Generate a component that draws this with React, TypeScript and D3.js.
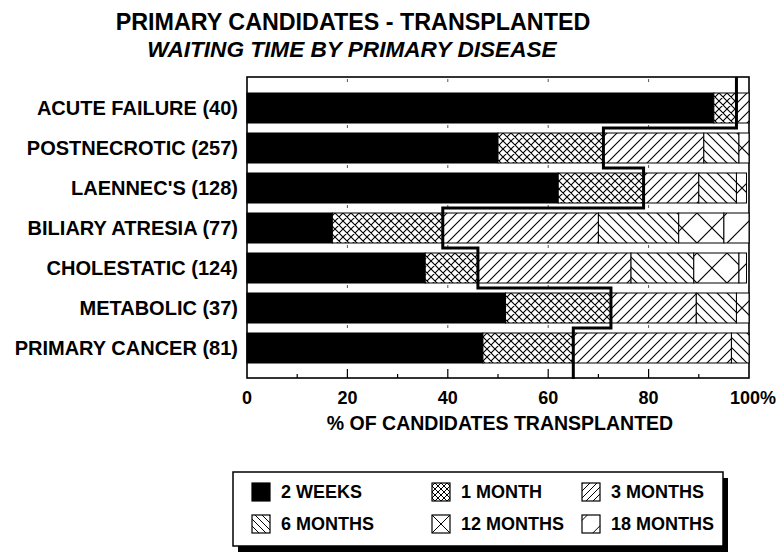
import * as React from 'react';
import * as d3 from 'd3';

// rows, top to bottom
const categories = [
  'ACUTE FAILURE (40)',
  'POSTNECROTIC (257)',
  "LAENNEC'S (128)",
  'BILIARY ATRESIA (77)',
  'CHOLESTATIC (124)',
  'METABOLIC (37)',
  'PRIMARY CANCER (81)',
];

const periods = ['2 WEEKS', '1 MONTH', '3 MONTHS', '6 MONTHS', '12 MONTHS', '18 MONTHS'];

// % of candidates transplanted within each waiting period (share per period)
const twoWeeks = [93, 50, 62, 17, 35.5, 51.5, 47];
const oneMonth = [4.5, 21, 17, 22, 10.5, 21, 18];
const threeMonths = [2.5, 20, 11, 31, 30.5, 17, 31.5];
const sixMonths = [0, 7, 7.5, 16, 12.5, 8, 3.5];
const twelveMonths = [0, 2, 2, 9, 9, 2.5, 0];
const eighteenMonths = [0, 0, 0, 5, 1.5, 0, 0];

const xTicks = [0, 20, 40, 60, 80, 100];
const xMinorTicks = [10, 30, 50, 70, 90];

const FONT = '"Liberation Sans", Arial, Helvetica, sans-serif';

class App extends React.Component {
  private element;

  componentDidMount() {
    this.draw();
  }

  draw() {
    const svg = d3.select(this.element);
    svg.selectAll('*').remove();

    const box = { left: 247, right: 749, top: 77, bottom: 378 };

    const x = d3.scaleLinear().domain([0, 100]).range([box.left, box.right]);
    const y = d3.scaleBand<string>()
      .domain(categories)
      .range([88, 368])
      .paddingInner(0.25)
      .paddingOuter(0.125);
    const bw = y.bandwidth();

    const series = [twoWeeks, oneMonth, threeMonths, sixMonths, twelveMonths, eighteenMonths];
    const table = categories.map((c, i) => {
      const row: any = { cat: c };
      periods.forEach((p, k) => { row[p] = series[k][i]; });
      return row;
    });
    const stacked = d3.stack().keys(periods)(table);

    // patterns
    const defs = svg.append('defs');
    const small = (id, size, d, sw) => {
      const p = defs.append('pattern')
        .attr('id', id)
        .attr('patternUnits', 'userSpaceOnUse')
        .attr('x', box.left).attr('y', y(categories[0]))
        .attr('width', size).attr('height', size);
      p.append('rect').attr('width', size).attr('height', size).attr('fill', '#fff');
      p.append('path').attr('d', d).attr('stroke', '#000').attr('stroke-width', sw).attr('fill', 'none');
    };
    small('p1', 8, 'M0,0L8,8M8,0L0,8M-1,1L1,-1M7,9L9,7M-1,7L1,9M7,-1L9,1', 1.1);
    small('p3', 10, 'M0,10L10,0M-1,1L1,-1M9,11L11,9', 1.1);
    small('p6', 10, 'M0,0L10,10M-1,9L1,11M9,-1L11,1', 1.1);
    const big = (id, d) => {
      const p = defs.append('pattern')
        .attr('id', id)
        .attr('patternUnits', 'userSpaceOnUse')
        .attr('x', box.left).attr('y', y(categories[0]))
        .attr('width', bw).attr('height', y.step());
      p.append('rect').attr('width', bw).attr('height', y.step()).attr('fill', '#fff');
      p.append('path').attr('d', d).attr('stroke', '#000').attr('stroke-width', 1.1).attr('fill', 'none');
    };
    big('p12', `M0,0L${bw},${bw}M${bw},0L0,${bw}`);
    big('p18', `M0,${bw}L${bw},0`);

    const fills = ['#000', 'url(#p1)', 'url(#p3)', 'url(#p6)', 'url(#p12)', 'url(#p18)'];

    // plot frame
    svg.append('rect')
      .attr('x', box.left).attr('y', box.top)
      .attr('width', box.right - box.left).attr('height', box.bottom - box.top)
      .attr('fill', '#fff').attr('stroke', '#000').attr('stroke-width', 1.6);

    // little grid marks in the gaps
    const gapTops = [box.top].concat(categories.map((c) => y(c) + bw));
    const g0 = svg.append('g');
    gapTops.forEach((gy, i) => {
      if (i === categories.length) return;
      [20, 40, 60, 80].forEach((t) => {
        g0.append('line')
          .attr('x1', x(t)).attr('x2', x(t))
          .attr('y1', gy + 2).attr('y2', gy + 5)
          .attr('stroke', '#555').attr('stroke-width', 1);
      });
    });

    // bars
    stacked.forEach((s, k) => {
      svg.append('g')
        .selectAll('rect')
        .data(s.filter((d) => d[1] - d[0] > 0))
        .enter()
        .append('rect')
        .attr('x', (d) => x(d[0]))
        .attr('y', (d) => y(d.data.cat))
        .attr('width', (d) => x(d[1]) - x(d[0]))
        .attr('height', bw)
        .attr('fill', fills[k])
        .attr('stroke', '#000')
        .attr('stroke-width', 1);
    });

    // step line along the one-month boundary
    const cum = categories.map((c, i) => twoWeeks[i] + oneMonth[i]);
    const gapMid = (i) => y(categories[i]) + bw + (y.step() - bw) / 2;
    let d = `M${x(cum[0])},${box.top}`;
    cum.forEach((v, i) => {
      if (i > 0) d += `H${x(v)}`;
      d += `V${i < cum.length - 1 ? gapMid(i) : box.bottom + 1}`;
    });
    svg.append('path').attr('d', d)
      .attr('fill', 'none').attr('stroke', '#000').attr('stroke-width', 3);

    // ticks inside bottom of frame
    xTicks.slice(1, -1).forEach((t) => {
      svg.append('line').attr('x1', x(t)).attr('x2', x(t))
        .attr('y1', box.bottom - 9).attr('y2', box.bottom)
        .attr('stroke', '#000').attr('stroke-width', 1.2);
    });
    xMinorTicks.forEach((t) => {
      svg.append('line').attr('x1', x(t)).attr('x2', x(t))
        .attr('y1', box.bottom - 4).attr('y2', box.bottom)
        .attr('stroke', '#000').attr('stroke-width', 1.2);
    });

    // tick labels
    svg.append('g')
      .selectAll('text')
      .data(xTicks)
      .enter()
      .append('text')
      .attr('x', (t) => x(t) + (t === 100 ? 4 : 0))
      .attr('y', 404)
      .attr('text-anchor', 'middle')
      .attr('font-family', FONT).attr('font-weight', 'bold').attr('font-size', 18)
      .text((t) => (t === 100 ? '100%' : `${t}`));

    svg.append('text')
      .attr('x', 500).attr('y', 430)
      .attr('text-anchor', 'middle')
      .attr('font-family', FONT).attr('font-weight', 'bold').attr('font-size', 19.5)
      .text('% OF CANDIDATES TRANSPLANTED');

    // category labels
    svg.append('g')
      .selectAll('text')
      .data(categories)
      .enter()
      .append('text')
      .attr('x', 238)
      .attr('y', (c) => y(c) + bw / 2)
      .attr('dy', '0.36em')
      .attr('text-anchor', 'end')
      .attr('font-family', FONT).attr('font-weight', 'bold').attr('font-size', 20)
      .text((c) => c);

    // titles
    svg.append('text')
      .attr('x', 353).attr('y', 30)
      .attr('text-anchor', 'middle')
      .attr('font-family', FONT).attr('font-weight', 'bold').attr('font-size', 23.3)
      .text('PRIMARY CANDIDATES - TRANSPLANTED');
    svg.append('text')
      .attr('x', 352).attr('y', 57)
      .attr('text-anchor', 'middle')
      .attr('font-family', FONT).attr('font-weight', 'bold').attr('font-style', 'italic')
      .attr('font-size', 22.6)
      .text('WAITING TIME BY PRIMARY DISEASE');

    // legend
    const lg = { left: 233, top: 472, width: 490, height: 74 };
    svg.append('rect')
      .attr('x', lg.left + 5).attr('y', lg.top + 6)
      .attr('width', lg.width).attr('height', lg.height)
      .attr('fill', '#000');
    svg.append('rect')
      .attr('x', lg.left).attr('y', lg.top)
      .attr('width', lg.width).attr('height', lg.height)
      .attr('fill', '#fff').attr('stroke', '#000').attr('stroke-width', 1.5);

    const colX = [252, 432, 582];
    const rowY = [492, 524];
    const sw = 18;
    periods.forEach((p, k) => {
      const cx = colX[k % 3];
      const cy = rowY[Math.floor(k / 3)];
      const g = svg.append('g').attr('transform', `translate(${cx},${cy - sw / 2})`);
      const lp = defs.append('pattern')
        .attr('id', `lp${k}`)
        .attr('patternUnits', 'userSpaceOnUse')
        .attr('x', cx).attr('y', cy - sw / 2)
        .attr('width', k === 1 ? 6 : 7).attr('height', k === 1 ? 6 : 7);
      if (k === 1) lp.append('path').attr('d', 'M0,0L6,6M6,0L0,6').attr('stroke', '#000').attr('stroke-width', 1);
      if (k === 2) lp.append('path').attr('d', 'M0,7L7,0M-1,1L1,-1M6,8L8,6').attr('stroke', '#000').attr('stroke-width', 1);
      if (k === 3) lp.append('path').attr('d', 'M0,0L7,7M-1,6L1,8M6,-1L8,1').attr('stroke', '#000').attr('stroke-width', 1);
      g.append('rect')
        .attr('width', sw).attr('height', sw)
        .attr('fill', k === 0 ? '#000' : (k >= 1 && k <= 3 ? `url(#lp${k})` : '#fff'))
        .attr('stroke', '#000').attr('stroke-width', 1.2);
      if (k === 4) {
        g.append('path').attr('d', `M0,0L${sw},${sw}M${sw},0L0,${sw}`)
          .attr('stroke', '#000').attr('stroke-width', 1);
      }
      if (k === 5) {
        g.append('path').attr('d', `M${sw * 0.6},${sw}L${sw},${sw * 0.6}M0,${sw * 0.3}L${sw * 0.3},0`)
          .attr('stroke', '#000').attr('stroke-width', 1);
      }
      svg.append('text')
        .attr('x', cx + 29).attr('y', cy)
        .attr('dy', '0.36em')
        .attr('font-family', FONT).attr('font-weight', 'bold').attr('font-size', 18)
        .text(p);
    });
  }

  render() {
    return (
      <svg
        ref={(ref) => (this.element = ref)}
        width={778}
        height={555}
        style={{ position: 'absolute', left: 0, top: 0, background: '#fff' }}
      />
    );
  }
}

export default App;
